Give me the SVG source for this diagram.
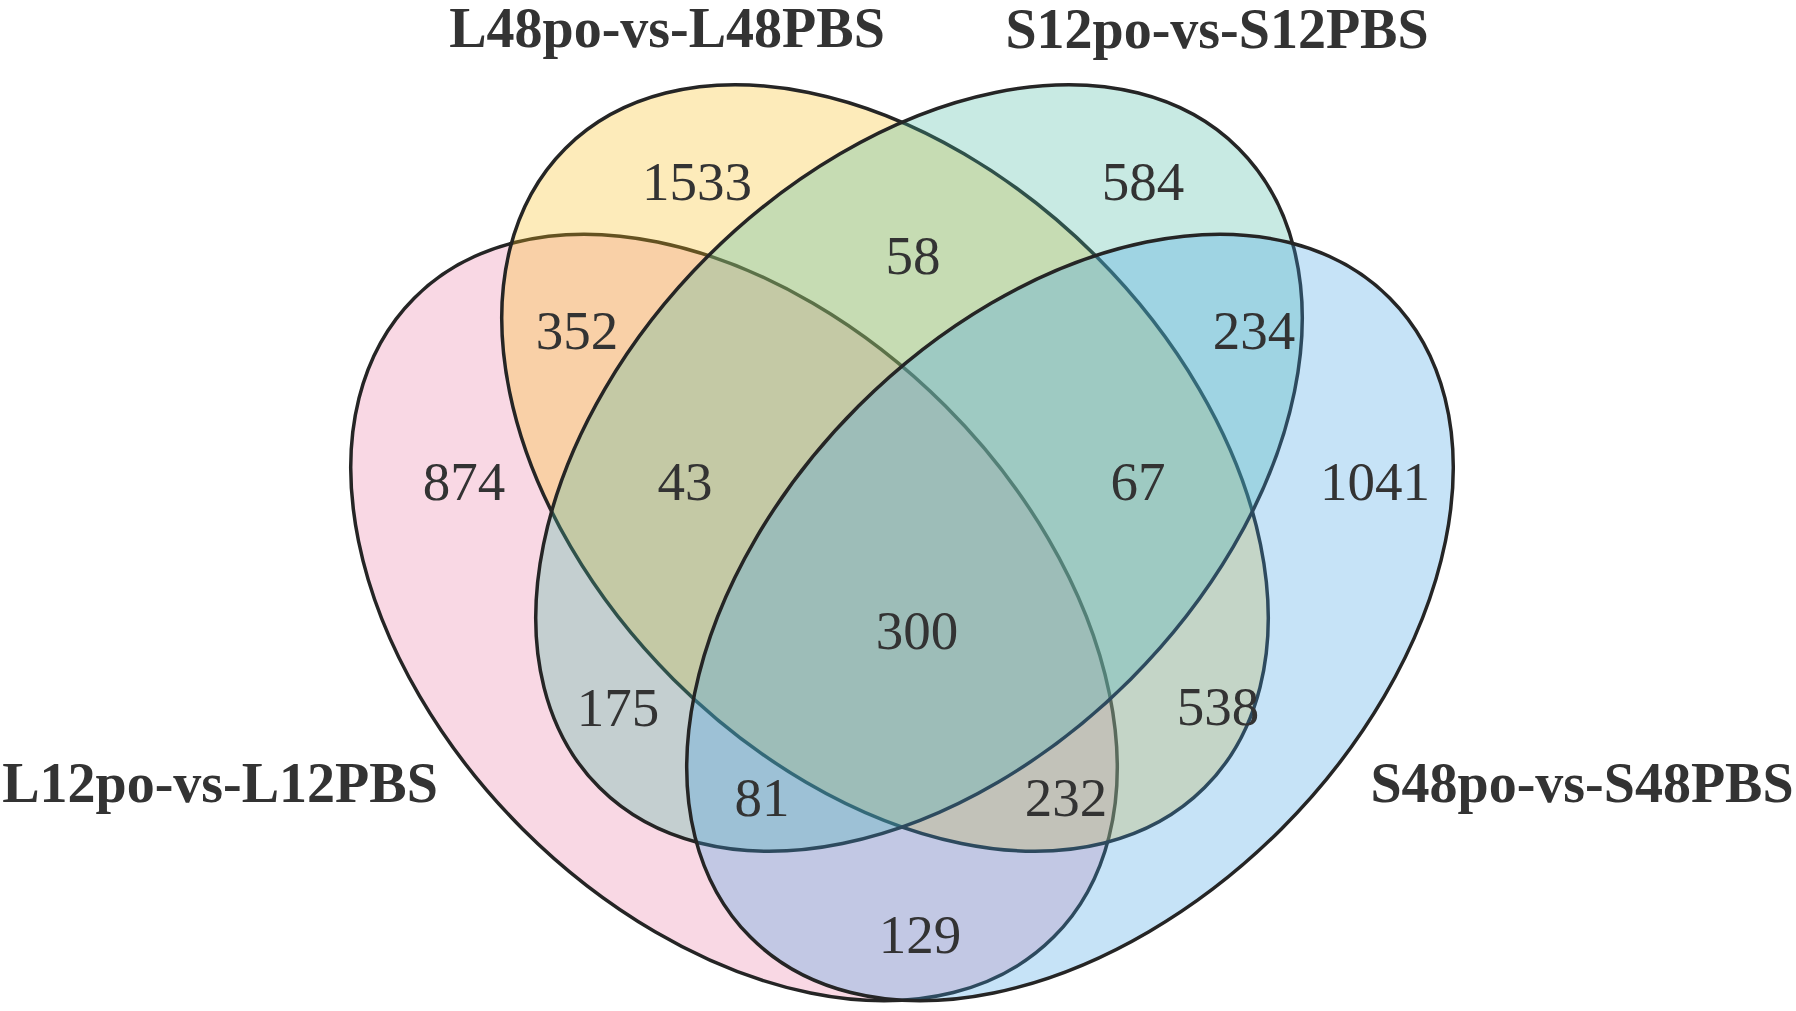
<svg xmlns="http://www.w3.org/2000/svg" width="1796" height="1011" viewBox="0 0 1796 1011">
<style>
.set { stroke:#252525; stroke-width:3.5; fill-opacity:0.3 }
.num { font-family:"Liberation Serif","Times New Roman",serif; font-size:55px; fill:#333333; text-anchor:middle }
.title { font-family:"Liberation Serif","Times New Roman",serif; font-weight:bold; font-size:56px; fill:#333333; text-anchor:middle }
</style>
<rect width="1796" height="1011" fill="#ffffff"/>
<g id="L12po-vs-L12PBS">
<ellipse class="set" cx="734" cy="617.5" rx="452" ry="299" transform="rotate(45 734 617.5)" fill="#EB7FA5"/>
<text class="title" x="220" y="802">L12po-vs-L12PBS</text>
</g>
<g id="L48po-vs-L48PBS">
<ellipse class="set" cx="885" cy="468" rx="452" ry="299" transform="rotate(45 885 468)" fill="#F8BC1C"/>
<text class="title" x="667" y="47">L48po-vs-L48PBS</text>
</g>
<g id="S12po-vs-S12PBS">
<ellipse class="set" cx="919" cy="468" rx="452" ry="299" transform="rotate(-45 919 468)" fill="#48B9A2"/>
<text class="title" x="1217" y="48">S12po-vs-S12PBS</text>
</g>
<g id="S48po-vs-S48PBS">
<ellipse class="set" cx="1070" cy="617.5" rx="452" ry="299" transform="rotate(-45 1070 617.5)" fill="#41A2E4"/>
<text class="title" x="1582" y="802">S48po-vs-S48PBS</text>
</g>
<g id="counts">
<text class="num" x="697" y="200">1533</text>
<text class="num" x="1143" y="200">584</text>
<text class="num" x="913" y="274">58</text>
<text class="num" x="577" y="349">352</text>
<text class="num" x="1254" y="349">234</text>
<text class="num" x="464" y="500">874</text>
<text class="num" x="685" y="500">43</text>
<text class="num" x="1138" y="500">67</text>
<text class="num" x="1375" y="500">1041</text>
<text class="num" x="917" y="649">300</text>
<text class="num" x="618" y="726">175</text>
<text class="num" x="1218" y="725">538</text>
<text class="num" x="762" y="816">81</text>
<text class="num" x="1066" y="816">232</text>
<text class="num" x="920" y="953">129</text>
</g>
<g id="connectors"/>
</svg>
